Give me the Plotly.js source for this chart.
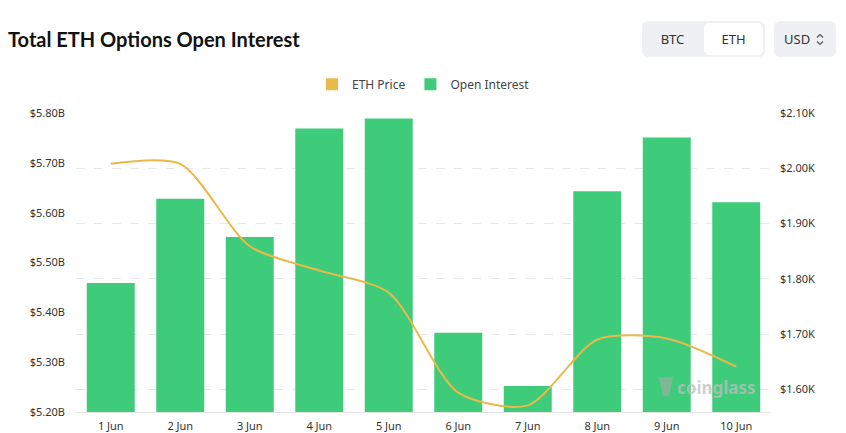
<!DOCTYPE html>
<html>
<head>
<meta charset="utf-8">
<script src="https://cdn.plot.ly/plotly-3.0.1.min.js"></script>
<style>
  html, body { margin: 0; padding: 0; background: #fff; }
  #wrap { position: relative; width: 846px; height: 433px; overflow: hidden; }
  #chart { position: absolute; left: 0; top: 0; width: 846px; height: 433px; }
  .seg { position: absolute; left: 642px; top: 21px; width: 123px; height: 36px; background: #eef0f3; border-radius: 6px; font-family: "Noto Sans", sans-serif; font-size: 13px; color: #333; }
  .seg .b { position: absolute; top: 0; height: 36px; line-height: 36px; text-align: center; }
  .seg .on { background: #fff; border-radius: 5px; top: 2px; height: 32px; line-height: 32px; }
  .usd { position: absolute; left: 774px; top: 21px; width: 62px; height: 36px; background: #eef0f3; border-radius: 6px; font-family: "Noto Sans", sans-serif; font-size: 13px; color: #333; line-height: 36px; }
</style>
</head>
<body>
<div id="wrap">
  <div id="chart"></div>
  <div class="seg">
    <div class="b" style="left:0;width:61px;">BTC</div>
    <div class="b on" style="left:62px;width:59px;">ETH</div>
  </div>
  <div class="usd"><span style="position:absolute;left:10px;">USD</span>
    <svg style="position:absolute;left:42px;top:12px;" width="8" height="13" viewBox="0 0 8 13">
      <path d="M1 4.5 L4 1.5 L7 4.5" fill="none" stroke="#555" stroke-width="1.2"/>
      <path d="M1 8.5 L4 11.5 L7 8.5" fill="none" stroke="#555" stroke-width="1.2"/>
    </svg>
  </div>
</div>
<script>
// ---- data ----
const dates = ['1 Jun', '2 Jun', '3 Jun', '4 Jun', '5 Jun', '6 Jun', '7 Jun', '8 Jun', '9 Jun', '10 Jun'];
const openInterestB = [5.459, 5.628, 5.551, 5.769, 5.789, 5.359, 5.252, 5.643, 5.751, 5.621];
const ethPrice = [2008, 2008, 1859, 1815, 1775, 1594, 1571, 1690, 1692, 1641];
const priceTickVals = [1600, 1700, 1800, 1900, 2000, 2100];
const priceTickText = ['$1.60K', '$1.70K', '$1.80K', '$1.90K', '$2.00K', '$2.10K'];

const GREEN = '#3ecc7b';
const GOLD = '#e9b949';
const tickFont = { family: 'Noto Sans, sans-serif', size: 11, color: '#333' };

const traces = [
  { type: 'bar', x: dates, y: openInterestB, name: 'Open Interest', marker: { color: GREEN },
    yaxis: 'y', showlegend: false, hoverinfo: 'skip' },
  { type: 'scatter', mode: 'lines', x: dates, y: ethPrice, name: 'ETH Price', yaxis: 'y2',
    line: { color: GOLD, width: 2, shape: 'spline', smoothing: 0.75 }, showlegend: false, hoverinfo: 'skip' },
  // legend entries (square swatches)
  { type: 'bar', x: [null], y: [null], name: 'ETH Price', marker: { color: GOLD }, yaxis: 'y2', legendrank: 1 },
  { type: 'bar', x: [null], y: [null], name: 'Open Interest', marker: { color: GREEN }, yaxis: 'y', legendrank: 2 }
];

const layout = {
  width: 846, height: 433,
  margin: { l: 76, r: 75, t: 113, b: 21, pad: 0 },
  paper_bgcolor: '#fff', plot_bgcolor: '#fff',
  bargap: 0.31,
  barmode: 'overlay',
  title: { text: '<b>Total ETH Options Open Interest</b>', xref: 'container', yref: 'container',
    x: 8 / 846, xanchor: 'left', y: 1 - 40 / 433, yanchor: 'middle',
    font: { family: 'Lato, sans-serif', size: 20, color: '#111' } },
  legend: { orientation: 'h', x: 0.5, xanchor: 'center', y: 1.096, yanchor: 'middle',
    font: { family: 'Noto Sans, sans-serif', size: 12, color: '#444' }, itemwidth: 30, traceorder: 'normal' },
  xaxis: { type: 'category', tickfont: tickFont, showgrid: false, zeroline: false,
    showline: true, linecolor: '#e6e6e6', linewidth: 1, ticks: '', ticklabelstandoff: 4 },
  yaxis: { range: [5.2, 5.8], dtick: 0.1, tickformat: '.2f', tickprefix: '$', ticksuffix: 'B',
    tickfont: tickFont, showgrid: false, zeroline: false, ticks: '', ticklabelstandoff: 10 },
  yaxis2: { overlaying: 'y', side: 'right', range: [1559, 2100], tickvals: priceTickVals, ticktext: priceTickText,
    tickfont: tickFont, showgrid: true, gridcolor: '#e8e8e8', griddash: 'dash', zeroline: false, ticks: '',
    ticklabelstandoff: 8 },
  annotations: [
    { text: '<b>coinglass</b>', xref: 'paper', yref: 'paper', x: (675 - 76) / 695, y: (411.7 - 387) / 299,
      xanchor: 'left', yanchor: 'middle', showarrow: false,
      font: { family: 'Noto Sans, sans-serif', size: 17, color: 'rgba(190,190,190,0.75)' } }
  ],
  shapes: [
    { type: 'path', xref: 'paper', yref: 'paper', layer: 'above',
      path: 'M ' + (659 - 76) / 695 + ' ' + (411.7 - 377) / 299 + ' L ' + (673 - 76) / 695 + ' ' + (411.7 - 377) / 299 +
            ' L ' + (669 - 76) / 695 + ' ' + (411.7 - 396) / 299 + ' L ' + (663 - 76) / 695 + ' ' + (411.7 - 396) / 299 + ' Z',
      fillcolor: 'rgba(170,170,170,0.6)', line: { width: 0 } }
  ]
};

Plotly.newPlot('chart', traces, layout, { staticPlot: true, displayModeBar: false });
</script>
</body>
</html>
